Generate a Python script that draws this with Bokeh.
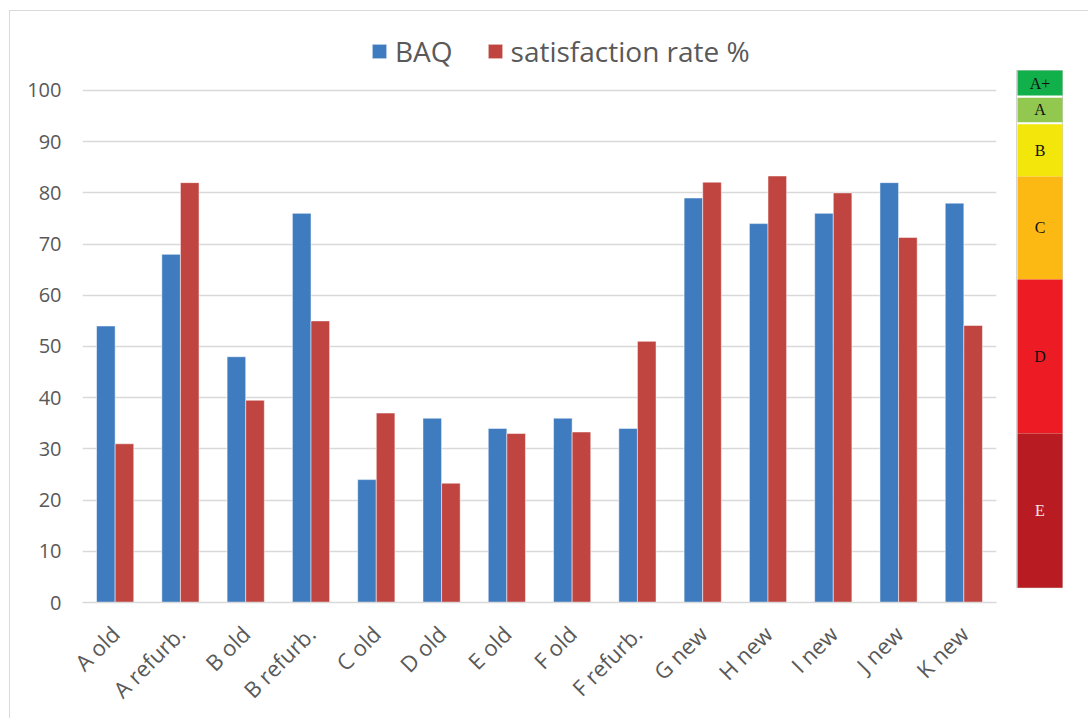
import math
from bokeh.plotting import figure
from bokeh.layouts import row
from bokeh.models import (FactorRange, Range1d, ColumnDataSource, Legend, LegendItem,
                          FixedTicker)
from bokeh.transform import dodge
from bokeh.core.properties import value
from bokeh.embed import file_html
from bokeh.resources import INLINE

# ---- data ----
categories = ["A old", "A refurb.", "B old", "B refurb.", "C old", "D old", "E old",
              "F old", "F refurb.", "G new", "H new", "I new", "J new", "K new"]
baq = [54, 68, 48, 76, 24, 36, 34, 36, 34, 79, 74, 76, 82, 78]
satisfaction = [31, 82, 39.5, 55, 37, 23.3, 33, 33.3, 51, 82.1, 83.3, 80, 71.3, 54.1]
y_ticks = [0, 10, 20, 30, 40, 50, 60, 70, 80, 90, 100]

# energy class scale shown at the right
class_labels = ["A+", "A", "B", "C", "D", "E"]
class_bottom = [99.0, 93.8, 83.2, 63.1, 33.0, 2.9]
class_top = [103.9, 98.6, 93.4, 83.2, 63.1, 33.0]
class_colors = ["#12b04b", "#92c84f", "#f2e60a", "#fdb913", "#ed1c24", "#b81c22"]
class_text_colors = ["#111111", "#111111", "#111111", "#111111", "#111111", "#f4e6e6"]

BLUE = "#3f7bbf"
RED = "#c0443f"
GRAY_TXT = "#595959"
GRID = "#d9d9d9"
FONT = "Open Sans"

src = ColumnDataSource(dict(cat=categories, baq=baq, sat=satisfaction))

# frame reaches up to the legend row; y = 100 stays at the same pixel height
yr = Range1d(0, 111.52)
p = figure(width=998, height=707, output_backend="svg", toolbar_location=None,
           x_range=FactorRange(*categories, range_padding=0),
           y_range=yr,
           min_border_left=72, min_border_right=12, min_border_top=20, min_border_bottom=116)
p.outline_line_color = None
p.background_fill_color = "white"
p.border_fill_color = "white"

r1 = p.vbar(x=dodge("cat", -0.1425, range=p.x_range), top="baq", width=0.285, source=src,
            fill_color=BLUE, line_color="white", line_alpha=0.5, line_width=1)
r2 = p.vbar(x=dodge("cat", 0.1425, range=p.x_range), top="sat", width=0.285, source=src,
            fill_color=RED, line_color="white", line_alpha=0.5, line_width=1)

p.xgrid.grid_line_color = None
p.ygrid.grid_line_color = GRID
p.ygrid.grid_line_width = 1.5
p.yaxis.ticker = FixedTicker(ticks=y_ticks)

p.yaxis.axis_line_color = None
p.yaxis.major_tick_line_color = None
p.yaxis.minor_tick_line_color = None
p.yaxis.major_label_text_font = FONT
p.yaxis.major_label_text_font_size = "20px"
p.yaxis.major_label_text_color = GRAY_TXT
p.yaxis.major_label_standoff = 15

p.xaxis.axis_line_color = GRID
p.xaxis.axis_line_width = 1.5
p.xaxis.major_tick_line_color = None
p.xaxis.minor_tick_line_color = None
p.xaxis.major_label_text_font = FONT
p.xaxis.major_label_text_font_size = "22px"
p.xaxis.major_label_text_color = GRAY_TXT
p.xaxis.major_label_orientation = math.pi / 4
p.xaxis.major_label_standoff = 21

legend = Legend(items=[LegendItem(label="BAQ", renderers=[r1]),
                       LegendItem(label="satisfaction rate %", renderers=[r2])],
                orientation="horizontal", location=(288, 532),
                glyph_width=18, glyph_height=18, label_standoff=7, spacing=33,
                padding=0, margin=0, border_line_color=None, background_fill_alpha=0,
                label_text_font=FONT, label_text_font_size="28px",
                label_text_color=GRAY_TXT)
p.add_layout(legend)

# ---- energy class band ----
band_src = ColumnDataSource(dict(bottom=class_bottom, top=class_top, color=class_colors,
                                 label=class_labels, tcolor=class_text_colors,
                                 mid=[(b + t) / 2 for b, t in zip(class_bottom, class_top)]))
b = figure(width=80, height=707, output_backend="svg", toolbar_location=None,
           x_range=Range1d(-0.2, 1.578), y_range=yr,
           min_border_left=0, min_border_right=0, min_border_top=20, min_border_bottom=116)
b.outline_line_color = None
b.axis.visible = False
b.grid.visible = False
b.border_fill_color = "white"
b.quad(left=-0.02, right=1, bottom=min(class_bottom), top=max(class_top),
       fill_color=None, line_color="#d0d0d0", line_width=1)
b.quad(left=0, right=1, bottom="bottom", top="top", fill_color="color", line_color=None,
       source=band_src)
b.text(x=0.5, y="mid", text="label", text_color="tcolor", source=band_src,
       text_align="center", text_baseline="middle",
       text_font=value("Liberation Serif"), text_font_size="16px")

layout = row(p, b, styles={"margin-left": "9px", "margin-top": "10px",
                           "border-left": "1px solid #d9d9d9",
                           "border-top": "1px solid #d9d9d9"})

open("out.html", "w").write(file_html(layout, INLINE))
